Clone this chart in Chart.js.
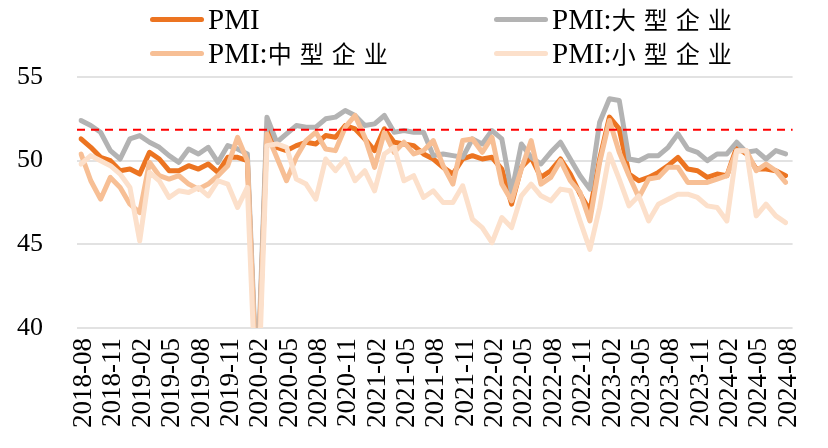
<!DOCTYPE html>
<html><head><meta charset="utf-8">
<script src="https://cdn.jsdelivr.net/npm/chart.js@4"></script>
<style>
html,body{margin:0;padding:0;background:#fff;}
#wrap{position:relative;width:828px;height:448px;overflow:hidden;}
canvas{position:absolute;left:0;top:0;}
.item{position:absolute;display:flex;align-items:center;white-space:nowrap;font-family:"Liberation Serif","Noto Sans CJK SC",serif;font-size:29px;color:#000;line-height:32px;}
.sw{display:inline-block;width:54px;height:5px;border-radius:3px;margin-right:4px;}
.cjk{font-family:"Noto Sans CJK SC",sans-serif;font-size:24px;letter-spacing:8px;}
</style></head>
<body><div id="wrap"><canvas id="c" width="828" height="448"></canvas><div id="legend"></div></div>
<script>
const months = ["2018-08","2018-09","2018-10","2018-11","2018-12","2019-01","2019-02","2019-03","2019-04","2019-05","2019-06","2019-07","2019-08","2019-09","2019-10","2019-11","2019-12","2020-01","2020-02","2020-03","2020-04","2020-05","2020-06","2020-07","2020-08","2020-09","2020-10","2020-11","2020-12","2021-01","2021-02","2021-03","2021-04","2021-05","2021-06","2021-07","2021-08","2021-09","2021-10","2021-11","2021-12","2022-01","2022-02","2022-03","2022-04","2022-05","2022-06","2022-07","2022-08","2022-09","2022-10","2022-11","2022-12","2023-01","2023-02","2023-03","2023-04","2023-05","2023-06","2023-07","2023-08","2023-09","2023-10","2023-11","2023-12","2024-01","2024-02","2024-03","2024-04","2024-05","2024-06","2024-07","2024-08"];
const shownMonths = ["2018-08","2018-11","2019-02","2019-05","2019-08","2019-11","2020-02","2020-05","2020-08","2020-11","2021-02","2021-05","2021-08","2021-11","2022-02","2022-05","2022-08","2022-11","2023-02","2023-05","2023-08","2023-11","2024-02","2024-05","2024-08"];
const pmi = [51.3,50.8,50.2,50.0,49.4,49.5,49.2,50.5,50.1,49.4, 49.4,49.7,49.5,49.8,49.3,50.2,50.2,50.0,35.7,52.0, 50.8,50.6,50.9,51.1,51.0,51.5,51.4,52.1,51.9,51.3, 50.6,51.9,51.1,51.0,50.9,50.4,50.1,49.6,49.2,50.1, 50.3,50.1,50.2,49.5,47.4,49.6,50.2,49.0,49.4,50.1, 49.2,48.0,47.0,50.1,52.6,51.9,49.2,48.8,49.0,49.3, 49.7,50.2,49.5,49.4,49.0,49.2,49.1,50.8,50.4,49.5, 49.5,49.4,49.1];
const pmiLarge = [52.4,52.1,51.7,50.6,50.1,51.3,51.5,51.1,50.8,50.3, 49.9,50.7,50.4,50.8,49.9,50.9,50.7,50.4,36.3,52.6, 51.1,51.6,52.1,52.0,52.0,52.5,52.6,53.0,52.7,52.1, 52.2,52.7,51.7,51.8,51.7,51.7,50.3,50.4,50.3,50.2, 51.3,51.0,51.8,51.3,48.1,51.0,50.2,49.8,50.5,51.1, 50.1,49.1,48.3,52.3,53.7,53.6,50.1,50.0,50.3,50.3, 50.8,51.6,50.7,50.5,50.0,50.4,50.4,51.1,50.5,50.6, 50.1,50.6,50.4];
const pmiMedium = [50.4,48.8,47.7,49.0,48.4,47.4,46.9,49.9,49.1,48.9, 49.1,48.6,48.3,48.6,49.1,49.7,51.4,50.0,35.5,51.6, 50.2,48.8,50.2,51.2,51.7,50.7,50.6,52.0,52.7,51.4, 49.6,51.7,50.5,51.1,50.4,50.6,51.2,49.7,48.6,51.2, 51.3,50.5,51.4,48.6,47.6,49.5,51.2,48.6,49.0,50.0, 48.8,48.1,46.4,49.9,52.4,50.5,49.1,47.8,48.9,49.0, 49.6,49.6,48.7,48.7,48.7,48.9,49.1,50.6,50.6,49.4, 49.8,49.4,48.7];
const pmiSmall = [49.8,50.3,50.0,49.7,49.2,48.4,45.2,49.3,48.8,47.8, 48.2,48.1,48.4,47.9,48.8,48.6,47.2,48.4,34.1,50.9, 51.0,50.8,48.9,48.6,47.7,50.1,49.4,50.1,48.8,49.4, 48.2,50.4,50.8,48.8,49.1,47.8,48.2,47.5,47.5,48.5, 46.5,46.0,45.1,46.6,46.0,47.9,48.6,47.9,47.6,48.3, 48.2,46.4,44.7,47.2,50.4,48.9,47.3,47.9,46.4,47.4, 47.7,48.0,48.0,47.8,47.3,47.2,46.4,50.6,50.6,46.7, 47.4,46.7,46.3];
const yTicks = [40,45,50,55];
const refLevel = 51.85;
const seriesNames = ["PMI","PMI:大型企业","PMI:中型企业","PMI:小型企业"];
const colors = ["#EC7421","#B3B3B3","#F7BF95","#FCE0CB"];

const series = [pmi, pmiLarge, pmiMedium, pmiSmall];
const datasets = series.map((d,i)=>({
  label: seriesNames[i], data: d, borderColor: colors[i], backgroundColor: colors[i],
  borderWidth: 5, pointRadius: 0, tension: 0, fill: false, order: 3 - i,
  borderJoinStyle: 'round', borderCapStyle: 'round'
}));

const gridPlugin = {
  id: 'grid',
  beforeDatasetsDraw(chart){
    const ctx = chart.ctx, y = chart.scales.y, a = chart.chartArea;
    ctx.save();
    ctx.strokeStyle = '#D9D9D9'; ctx.lineWidth = 1.6;
    yTicks.forEach(v=>{
      const py = Math.round(y.getPixelForValue(v));
      ctx.beginPath(); ctx.moveTo(a.left-4, py); ctx.lineTo(a.right+7, py); ctx.stroke();
    });
    ctx.restore();
  },
  afterDatasetsDraw(chart){
    const ctx = chart.ctx, y = chart.scales.y, a = chart.chartArea;
    const py = y.getPixelForValue(refLevel);
    ctx.save();
    ctx.strokeStyle = '#FF0000'; ctx.lineWidth = 2; ctx.setLineDash([8,6]);
    ctx.beginPath(); ctx.moveTo(a.left-4, py); ctx.lineTo(a.right+7, py); ctx.stroke();
    ctx.restore();
  }
};

new Chart(document.getElementById('c'), {
  type: 'line',
  data: { labels: months, datasets },
  options: {
    responsive: false, animation: false, devicePixelRatio: 1,
    layout: { padding: { top: 77, right: 12, bottom: 0, left: 0 } },
    plugins: { legend: { display: false }, tooltip: { enabled: false } },
    scales: {
      x: {
        type: 'category', offset: false,
        grid: { display: false, drawTicks: false },
        border: { display: false },
        afterFit(s){ s.height = 120; },
        ticks: {
          autoSkip: false, minRotation: 90, maxRotation: 90, padding: 10, labelOffset: 3,
          color: '#000', font: { family: 'Liberation Serif', size: 27 },
          callback(v, i){ const m = months[i]; return shownMonths.includes(m) ? m : ''; }
        }
      },
      y: {
        min: 40, max: 55,
        afterBuildTicks(s){ s.ticks = yTicks.map(v=>({value:v})); },
        afterFit(s){ s.width = 81; },
        grid: { display: false, drawTicks: false },
        border: { display: false },
        ticks: { padding: 38, color: '#000', font: { family: 'Liberation Serif', size: 26 } }
      }
    }
  },
  plugins: [gridPlugin]
});

const legendPos = [[150,3],[494,3],[150,37],[494,37]];
const lg = document.getElementById('legend');
seriesNames.forEach((n,i)=>{
  const it = document.createElement('div'); it.className='item';
  it.style.left = legendPos[i][0]+'px'; it.style.top = legendPos[i][1]+'px';
  const sw = document.createElement('span'); sw.className='sw'; sw.style.background = colors[i];
  it.appendChild(sw);
  const idx = n.indexOf(':');
  if (idx >= 0) {
    const a = document.createElement('span'); a.textContent = n.slice(0, idx+1); it.appendChild(a);
    const b = document.createElement('span'); b.className='cjk'; b.textContent = n.slice(idx+1); it.appendChild(b);
  } else {
    const a = document.createElement('span'); a.textContent = n; it.appendChild(a);
  }
  lg.appendChild(it);
});
</script>
</body></html>
